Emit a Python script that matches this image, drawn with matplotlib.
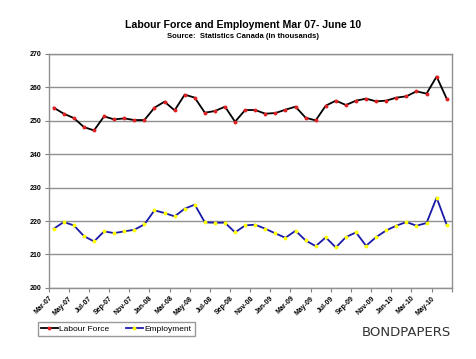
import matplotlib
matplotlib.use("Agg")
import matplotlib.pyplot as plt
import numpy as np

months = ["Mar-07","Apr-07","May-07","Jun-07","Jul-07","Aug-07","Sep-07","Oct-07","Nov-07","Dec-07",
          "Jan-08","Feb-08","Mar-08","Apr-08","May-08","Jun-08","Jul-08","Aug-08","Sep-08","Oct-08","Nov-08","Dec-08",
          "Jan-09","Feb-09","Mar-09","Apr-09","May-09","Jun-09","Jul-09","Aug-09","Sep-09","Oct-09","Nov-09","Dec-09",
          "Jan-10","Feb-10","Mar-10","Apr-10","May-10","Jun-10"]
labour_force = [253.9, 252.1, 250.8, 248.1, 247.1, 251.3, 250.4, 250.7, 250.2, 250.2,
                253.9, 255.7, 253.1, 257.8, 256.9, 252.4, 252.9, 254.2, 249.7, 253.2,
                253.2, 252.1, 252.3, 253.3, 254.2, 250.9, 250.1, 254.5, 256.0, 254.7,
                256.0, 256.6, 255.8, 256.0, 256.9, 257.3, 258.8, 258.1, 263.2, 256.6]
employment = [217.7, 219.7, 218.7, 215.5, 213.9, 216.9, 216.4, 216.9, 217.4, 219.0,
              223.2, 222.4, 221.4, 223.7, 224.9, 219.6, 219.5, 219.5, 216.6, 218.7,
              218.9, 217.7, 216.3, 215.0, 217.1, 214.2, 212.5, 215.1, 212.1, 215.2,
              216.6, 212.6, 215.2, 217.2, 218.6, 219.7, 218.6, 219.4, 227.0, 218.9]
y_ticks = [200, 210, 220, 230, 240, 250, 260, 270]

plt.rcParams['font.family'] = ['Liberation Sans', 'DejaVu Sans']

fig = plt.figure(figsize=(4.77, 3.59), dpi=100)
ax = fig.add_axes([0.102, 0.198, 0.845, 0.652])

x = np.arange(len(months))
ax.plot(x, labour_force, color='black', lw=1.3, marker='o', ms=1.8,
        mfc='#e02020', mec='#e02020', label='Labour Force', zorder=3)
ax.plot(x, employment, color='#1a1aa8', lw=1.3, marker='o', ms=1.8,
        mfc='#ffff00', mec='#ffff00', label='Employment', zorder=3)

ax.set_xlim(-0.5, len(months) - 0.5)
ax.set_ylim(200, 270)
ax.set_yticks(y_ticks)
ax.set_yticklabels([str(v) for v in y_ticks], fontsize=5, fontweight='bold')
ax.yaxis.grid(True, color='#909090', lw=1.0)
ax.set_axisbelow(True)

tick_pos = np.arange(-0.5, len(months), 2)
ax.set_xticks(tick_pos)
labels = [months[i] for i in range(0, len(months), 2)] + [""]
ax.set_xticklabels(labels[:len(tick_pos)], rotation=45, ha='right', rotation_mode='anchor',
                   fontsize=5, fontweight='bold')
ax.tick_params(axis='both', length=3, width=0.8, color='#808080', pad=2)
for s in ax.spines.values():
    s.set_color('#909090')
    s.set_linewidth(1.0)

fig.text(0.51, 0.93, "Labour Force and Employment Mar 07- June 10", ha='center', va='center',
         fontsize=7.6, fontweight='bold')
fig.text(0.51, 0.899, "Source:  Statistics Canada (in thousands)", ha='center', va='center',
         fontsize=5.5, fontweight='bold')

leg = fig.legend(loc='lower left', bbox_to_anchor=(0.07, 0.052), ncol=2, fontsize=6,
                 frameon=True, fancybox=False, edgecolor='#808080', handlelength=2.0,
                 handletextpad=0.2, columnspacing=2.0, borderpad=0.4, markerscale=1.0)
leg.get_frame().set_linewidth(1.0)

fig.text(0.852, 0.075, "BONDPAPERS", ha='center', va='center', fontsize=9.5,
         color='#333333', family=['Liberation Sans Narrow', 'DejaVu Sans'])

fig.savefig("out.png", dpi=100, facecolor='white')
